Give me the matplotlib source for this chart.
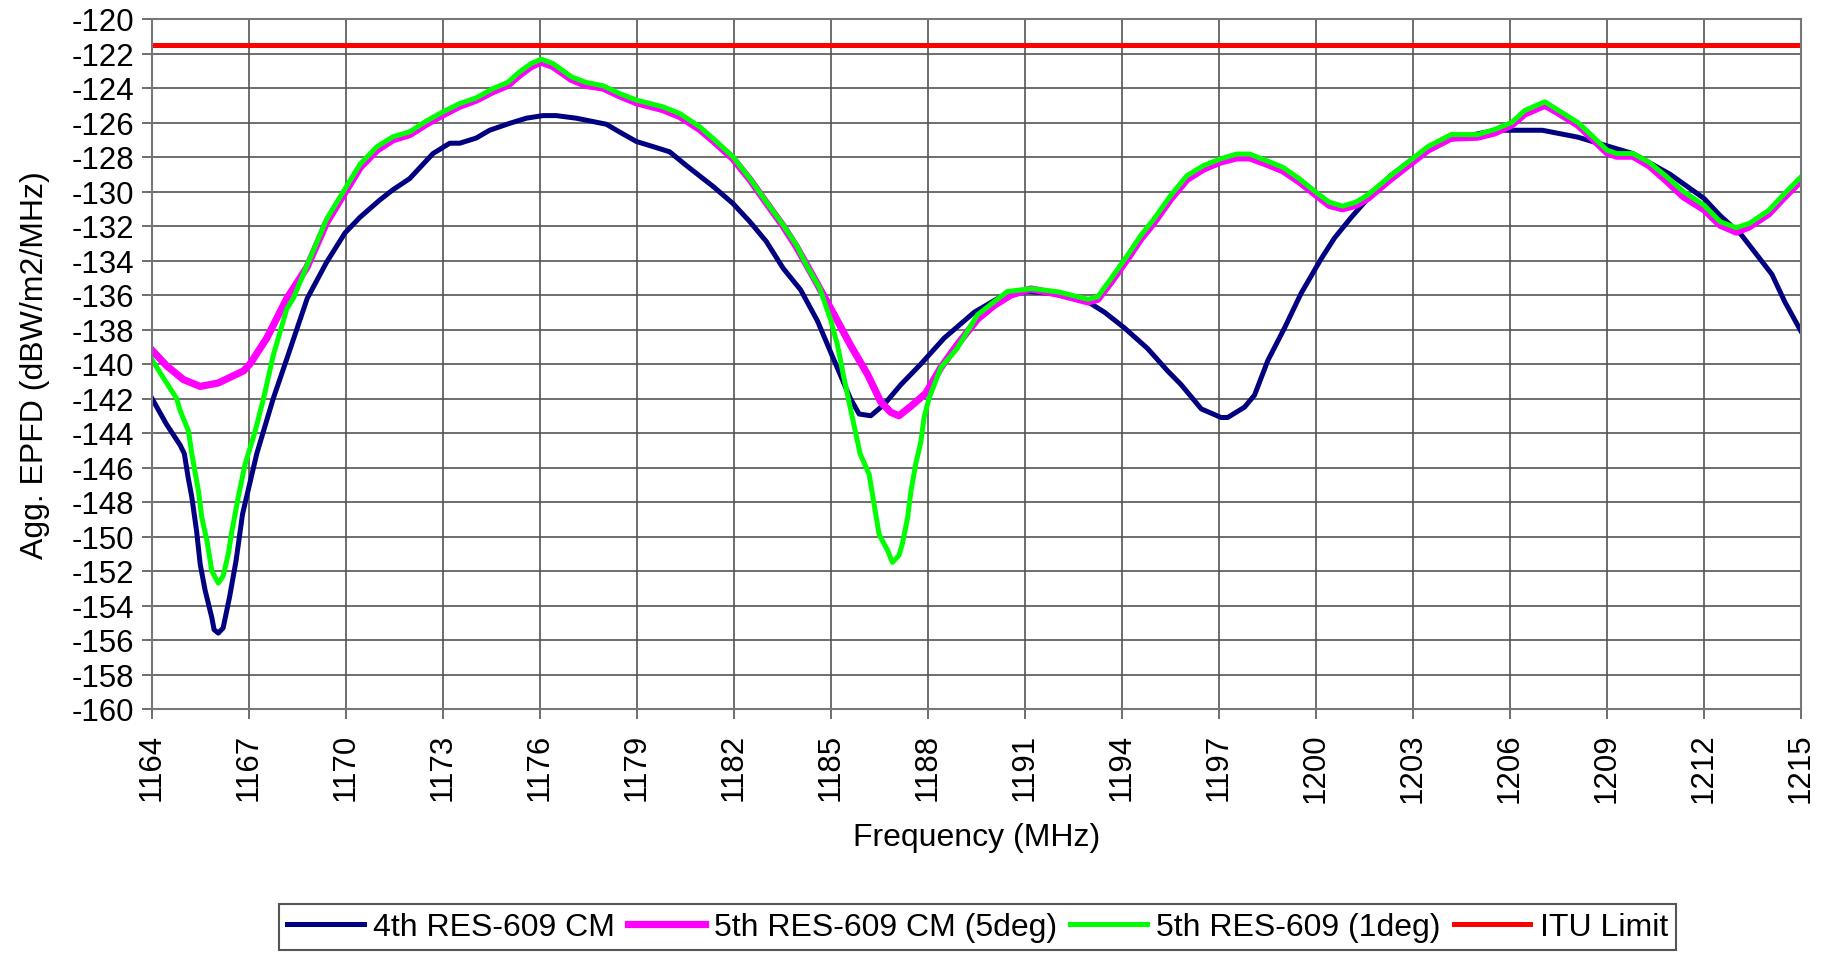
import numpy as np
import matplotlib
matplotlib.use("Agg")
import matplotlib.pyplot as plt

plt.rcParams['font.family'] = ['Liberation Sans', 'DejaVu Sans']
plt.rcParams['axes.unicode_minus'] = False

# 4th RES-609 CM
freq_4th = [1164.0, 1164.45, 1164.87, 1165.0, 1165.12, 1165.23, 1165.38, 1165.49, 1165.64, 1165.85,
            1165.92, 1166.05, 1166.2, 1166.4, 1166.6, 1166.8, 1167.24, 1167.75, 1168.17, 1168.8,
            1169.4, 1169.97, 1170.43, 1171.04, 1171.45, 1171.97, 1172.69, 1173.21, 1173.52, 1174.03,
            1174.44, 1175.06, 1175.58, 1176.09, 1176.5, 1177.12, 1178.05, 1178.46, 1178.98, 1179.5,
            1180.01, 1180.53, 1181.35, 1181.97, 1182.49, 1183.0, 1183.52, 1184.06, 1184.58, 1185.1,
            1185.6, 1185.87, 1186.23, 1186.64, 1187.16, 1187.78, 1188.5, 1189.43, 1190.25, 1191.08,
            1191.8, 1192.95, 1193.46, 1194.07, 1194.79, 1195.41, 1195.83, 1196.45, 1197.06, 1197.27,
            1197.79, 1198.1, 1198.51, 1199.03, 1199.54, 1200.16, 1200.57, 1201.09, 1201.7, 1202.3,
            1203.0, 1203.3, 1204.1, 1205.55, 1207.0, 1208.1, 1208.9, 1209.8, 1210.95, 1212.0,
            1212.5, 1213.15, 1214.1, 1214.5, 1215.0]
epfd_4th = [-142.0, -143.5, -144.7, -145.2, -146.6, -147.7, -149.7, -151.6, -153.1, -154.7,
            -155.4, -155.6, -155.3, -153.5, -151.4, -148.7, -145.2, -142.0, -139.7, -136.2,
            -134.1, -132.4, -131.5, -130.5, -129.9, -129.25, -127.8, -127.2, -127.2, -126.9,
            -126.45, -126.05, -125.75, -125.6, -125.6, -125.75, -126.1, -126.55, -127.1, -127.4,
            -127.7, -128.5, -129.7, -130.7, -131.75, -132.9, -134.45, -135.7, -137.5, -139.8,
            -142.0, -142.9, -143.0, -142.35, -141.2, -140.0, -138.5, -137.0, -136.1, -135.8,
            -135.9, -136.4, -137.0, -137.9, -139.1, -140.4, -141.2, -142.6, -143.1, -143.1,
            -142.5, -141.8, -139.8, -137.9, -135.9, -133.9, -132.7, -131.5, -130.2, -129.1,
            -128.1, -127.7, -127.0, -126.45, -126.45, -126.85, -127.3, -127.8, -129.0, -130.4,
            -131.4, -132.5, -134.8, -136.4, -138.1]

# 5th RES-609 CM (5deg)
freq_5deg = [1164.0, 1164.45, 1164.97, 1165.49, 1166.05, 1166.83, 1167.03, 1167.55, 1168.17, 1168.79,
             1169.4, 1169.92, 1170.44, 1170.96, 1171.45, 1171.97, 1172.48, 1173.0, 1173.52, 1174.03,
             1174.55, 1175.0, 1175.37, 1175.73, 1176.04, 1176.4, 1176.97, 1177.43, 1177.95, 1178.46,
             1178.98, 1179.8, 1180.32, 1180.94, 1181.35, 1181.97, 1182.49, 1183.0, 1183.52, 1183.93,
             1184.47, 1185.1, 1185.6, 1186.13, 1186.54, 1186.85, 1187.1, 1187.47, 1187.93, 1188.4,
             1188.9, 1189.53, 1190.05, 1190.56, 1191.18, 1192.03, 1192.95, 1193.25, 1193.66, 1194.17,
             1194.58, 1194.99, 1195.5, 1196.01, 1196.52, 1197.03, 1197.54, 1197.95, 1198.46, 1198.98,
             1199.49, 1200.0, 1200.41, 1200.82, 1201.23, 1201.6, 1202.33, 1203.05, 1203.46, 1204.18,
             1205.0, 1205.53, 1206.05, 1206.46, 1207.08, 1207.5, 1208.1, 1208.5, 1209.0, 1209.3,
             1209.8, 1210.3, 1210.85, 1211.36, 1212.0, 1212.5, 1213.0, 1213.4, 1214.0, 1214.45,
             1215.0]
epfd_5deg = [-139.2, -140.1, -140.9, -141.3, -141.1, -140.4, -140.0, -138.5, -136.2, -134.4,
             -131.8, -130.2, -128.6, -127.6, -127.0, -126.7, -126.1, -125.55, -125.05, -124.7,
             -124.2, -123.85, -123.25, -122.75, -122.5, -122.75, -123.5, -123.85, -124.0, -124.45,
             -124.85, -125.25, -125.65, -126.4, -127.05, -128.1, -129.3, -130.65, -132.0, -133.2,
             -135.0, -137.15, -138.9, -140.6, -142.2, -142.8, -143.0, -142.45, -141.7, -140.2,
             -138.9, -137.4, -136.6, -136.0, -135.65, -135.95, -136.4, -136.25, -135.25, -133.9,
             -132.75, -131.8, -130.45, -129.3, -128.7, -128.3, -128.05, -128.05, -128.4, -128.8,
             -129.45, -130.2, -130.8, -131.0, -130.8, -130.4, -129.25, -128.2, -127.6, -126.9,
             -126.85, -126.6, -126.15, -125.5, -125.0, -125.45, -126.15, -126.85, -127.75, -127.95,
             -127.95, -128.5, -129.4, -130.3, -131.05, -131.95, -132.35, -132.05, -131.3, -130.4,
             -129.35]

# 5th RES-609 (1deg)
freq_1deg = [1164.0, 1164.35, 1164.76, 1164.87, 1165.13, 1165.23, 1165.44, 1165.54, 1165.7, 1165.85,
             1166.05, 1166.2, 1166.36, 1166.47, 1166.67, 1166.88, 1167.19, 1167.45, 1167.75, 1168.17,
             1168.37, 1168.79, 1169.4, 1169.92, 1170.44, 1170.96, 1171.45, 1171.97, 1172.48, 1173.0,
             1173.52, 1174.03, 1174.55, 1175.0, 1175.37, 1175.73, 1176.04, 1176.4, 1176.97, 1177.43,
             1177.95, 1178.46, 1178.98, 1179.8, 1180.32, 1180.94, 1181.35, 1181.97, 1182.49, 1183.0,
             1183.52, 1183.93, 1184.24, 1184.65, 1185.0, 1185.2, 1185.4, 1185.66, 1185.9, 1186.18,
             1186.33, 1186.49, 1186.75, 1186.9, 1187.1, 1187.21, 1187.37, 1187.47, 1187.62, 1187.78,
             1187.88, 1188.03, 1188.4, 1188.9, 1189.53, 1190.45, 1191.21, 1192.03, 1192.95, 1193.25,
             1193.66, 1194.17, 1194.58, 1194.99, 1195.5, 1196.01, 1196.52, 1197.03, 1197.54, 1197.95,
             1198.46, 1198.98, 1199.49, 1200.0, 1200.41, 1200.82, 1201.23, 1201.6, 1202.33, 1203.05,
             1203.46, 1204.18, 1205.0, 1205.53, 1206.05, 1206.46, 1207.08, 1207.5, 1208.1, 1208.5,
             1209.0, 1209.3, 1209.8, 1210.3, 1210.85, 1211.36, 1212.0, 1212.5, 1213.0, 1213.4,
             1214.0, 1214.45, 1215.0]
epfd_1deg = [-139.75, -140.8, -142.0, -142.7, -143.9, -145.2, -147.4, -148.9, -150.25, -152.0,
             -152.7, -152.3, -151.0, -149.7, -147.7, -145.8, -143.9, -142.0, -139.5, -136.8,
             -136.2, -134.3, -131.6, -130.0, -128.4, -127.4, -126.83, -126.54, -125.92, -125.38,
             -124.9, -124.57, -124.03, -123.68, -123.06, -122.58, -122.33, -122.58, -123.35, -123.68,
             -123.87, -124.32, -124.7, -125.09, -125.48, -126.25, -126.92, -127.99, -129.24, -130.6,
             -131.94, -133.1, -134.26, -135.6, -137.5, -138.9, -140.8, -143.1, -145.2, -146.4,
             -148.1, -149.9, -150.8, -151.5, -151.1, -150.4, -148.9, -147.4, -145.8, -144.5,
             -143.1, -142.0, -140.2, -139.1, -137.15, -135.8, -135.63, -135.82, -136.25, -136.1,
             -135.05, -133.7, -132.55, -131.59, -130.24, -129.08, -128.5, -128.12, -127.83, -127.83,
             -128.21, -128.6, -129.27, -130.04, -130.62, -130.85, -130.62, -130.2, -129.05, -128.0,
             -127.4, -126.7, -126.7, -126.4, -126.0, -125.3, -124.8, -125.3, -126.0, -126.7,
             -127.6, -127.8, -127.8, -128.3, -129.15, -130.0, -130.8, -131.75, -132.1, -131.85,
             -131.1, -130.2, -129.15]

# ITU limit
freq_itu = [1164, 1215]
epfd_itu = [-121.5, -121.5]

x_ticks = np.arange(1164, 1216, 3)
y_ticks = np.arange(-160, -119, 2)

fig = plt.figure(figsize=(18.24, 9.54), dpi=100)
ax = fig.add_axes([152 / 1824, 1 - 710 / 954, (1801 - 152) / 1824, (710 - 20) / 954])

ax.plot(freq_4th, epfd_4th, color='#000080', linewidth=3.6, label='4th RES-609 CM')
ax.plot(freq_5deg, epfd_5deg, color='#ff00ff', linewidth=5.2, label='5th RES-609 CM (5deg)')
ax.plot(freq_1deg, epfd_1deg, color='#00ff00', linewidth=3.6, label='5th RES-609 (1deg)')
ax.plot(freq_itu, epfd_itu, color='#ff0000', linewidth=3.6, label='ITU Limit')

ax.set_xlim(1164, 1215)
ax.set_ylim(-160, -120)
ax.set_xticks(x_ticks)
ax.set_yticks(y_ticks)
ax.set_xticklabels([str(t) for t in x_ticks], rotation=90)
ax.tick_params(axis='both', labelsize=22.5, length=7, width=1.2, color='#555555', direction='out')
ax.tick_params(axis='x', pad=10)
ax.tick_params(axis='y', pad=6)
ax.grid(True, color='#555555', linewidth=1.2)
ax.set_axisbelow(True)
for side in ax.spines:
    ax.spines[side].set_color('#777777')
    ax.spines[side].set_linewidth(1.5)

ax.set_xlabel('Frequency (MHz)', fontsize=23, labelpad=14)
ax.set_ylabel('Agg. EPFD (dBW/m2/MHz)', fontsize=23, labelpad=15)

leg = fig.legend(loc='lower center', bbox_to_anchor=(0.536, 0.0), ncol=4, fontsize=23,
                 frameon=True, fancybox=False, edgecolor='#555555', framealpha=1,
                 handlelength=2.4, handletextpad=0.3, columnspacing=0.4, borderpad=0.25,
                 borderaxespad=0.1)
leg.get_frame().set_linewidth(1.5)

fig.savefig('out.png', dpi=100)
